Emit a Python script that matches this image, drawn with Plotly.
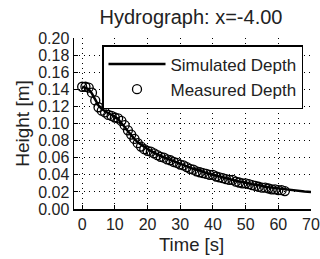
import plotly.graph_objects as go

sim_t = [0, 1, 2, 3, 4, 5, 6, 7, 8, 9, 10, 11, 12, 13, 14, 15, 16, 17, 18, 19, 20,
         22, 24, 26, 28, 30, 32, 34, 36, 38, 40, 42, 44, 46, 48, 50, 52, 54, 56, 58,
         60, 62, 64, 66, 68, 70]
sim_h = [0.143, 0.142, 0.140, 0.135, 0.128, 0.121, 0.117, 0.114, 0.112, 0.110, 0.108,
         0.105, 0.101, 0.096, 0.091, 0.086, 0.082, 0.078, 0.075, 0.072, 0.070,
         0.066, 0.062, 0.059, 0.056, 0.053, 0.050, 0.047, 0.045, 0.042, 0.040,
         0.038, 0.036, 0.034, 0.032, 0.031, 0.029, 0.028, 0.026, 0.025, 0.024,
         0.023, 0.022, 0.021, 0.0205, 0.020]

meas_t = list(range(0, 63))
meas_h = [0.143, 0.143, 0.142, 0.136, 0.127, 0.119, 0.115, 0.113, 0.110, 0.109,
          0.107, 0.106, 0.103, 0.098, 0.092, 0.087, 0.082, 0.077, 0.073, 0.070,
          0.068, 0.067, 0.065, 0.063, 0.061, 0.060, 0.058, 0.057, 0.055, 0.054,
          0.052, 0.051, 0.049, 0.047, 0.046, 0.044, 0.043, 0.042, 0.041, 0.040,
          0.040, 0.038, 0.037, 0.036, 0.035, 0.034, 0.034, 0.032, 0.031, 0.030,
          0.030, 0.029, 0.028, 0.027, 0.026, 0.025, 0.025, 0.024, 0.023, 0.023,
          0.022, 0.022, 0.021]

x_ticks = [0, 10, 20, 30, 40, 50, 60, 70]
y_ticks = [0.00, 0.02, 0.04, 0.06, 0.08, 0.10, 0.12, 0.14, 0.16, 0.18, 0.20]

FONT = "Liberation Sans, Arial, sans-serif"
TICKFONT = "Liberation Sans Narrow, Liberation Sans, Arial, sans-serif"

L, R, T, B = 74, 9, 38, 50
W, H = 320, 259
PW, PH = W - L - R, H - T - B

fig = go.Figure()
fig.add_trace(go.Scatter(x=sim_t, y=sim_h, mode="lines", name="Simulated Depth",
                         line=dict(color="black", width=2.5)))
fig.add_trace(go.Scatter(x=meas_t, y=meas_h, mode="markers", name="Measured Depth",
                         marker=dict(symbol="circle-open", size=9, color="black",
                                     line=dict(width=1.3, color="black"))))

axis_common = dict(
    showgrid=True, gridcolor="black", griddash="1px,4px", gridwidth=1,
    zeroline=False, showline=True, linecolor="black", linewidth=1.5,
    mirror=False, ticks="inside", ticklen=4, tickcolor="black",
    ticklabeloverflow="allow",
    tickfont=dict(family=TICKFONT, size=16, color="#222"),
)

fig.update_xaxes(range=[-2.5, 70], tickvals=x_ticks, **axis_common)
fig.update_yaxes(range=[0, 0.2], tickvals=y_ticks, tickformat=".2f",
                 title=dict(text="Height [m]", font=dict(family=FONT, size=19, color="#222"), standoff=3),
                 **axis_common)

fig.add_annotation(text="Time [s]", xref="paper", yref="paper",
                   x=(191 - L) / PW, y=(H - B - 244) / PH, xanchor="center", yanchor="middle",
                   showarrow=False, font=dict(family=FONT, size=18.5, color="#222"))

fig.update_layout(
    width=W, height=H,
    margin=dict(l=L, r=R, t=T, b=B, autoexpand=False),
    paper_bgcolor="white", plot_bgcolor="white",
    title=dict(text="Hydrograph: x=-4.00", xref="container", yref="container",
               x=191 / W, xanchor="center", y=1 - 17 / H, yanchor="middle",
               font=dict(family=FONT, size=20, color="#222")),
    legend=dict(xref="container", yref="container",
                x=303 / W, y=1 - 45 / H, xanchor="right", yanchor="top",
                bgcolor="white", bordercolor="black", borderwidth=1.5,
                font=dict(family=FONT, size=17, color="#222"),
                itemwidth=57),
    showlegend=True,
)

fig.write_html("out.html",
               config={"displayModeBar": False, "staticPlot": True},
               post_script="document.body.style.margin='0';document.body.style.overflow='hidden';")
